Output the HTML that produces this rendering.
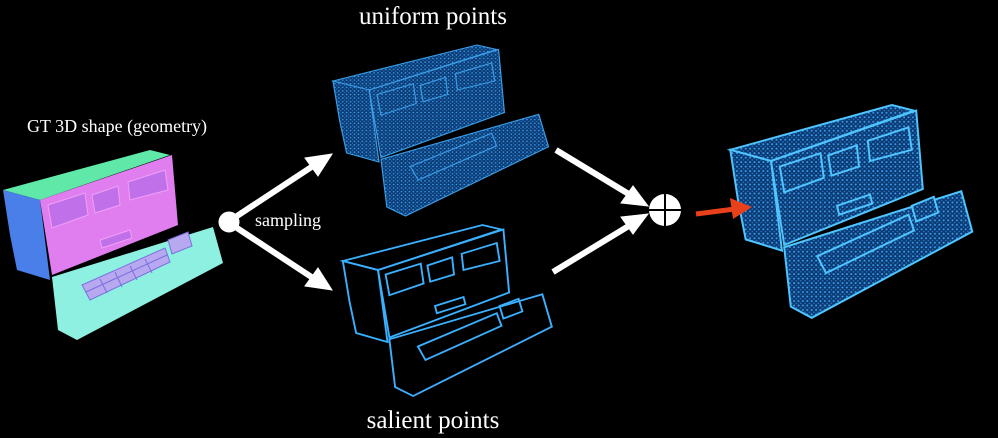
<!DOCTYPE html>
<html><head><meta charset="utf-8"><style>
html,body{margin:0;padding:0;background:#000;width:998px;height:438px;overflow:hidden}
</style></head><body>
<svg width="998" height="438" viewBox="0 0 998 438" xmlns="http://www.w3.org/2000/svg">
<defs>
<pattern id="dots" width="4" height="4" patternUnits="userSpaceOnUse">
<rect width="4" height="4" fill="#0c3870"/>
<circle cx="1" cy="1" r="0.9" fill="#3aa0f0"/>
<circle cx="3" cy="3" r="0.7" fill="#2580d0"/>
</pattern>
</defs>

<!-- GT shape -->
<g>
<polygon fill="#5fe8a8" points="3,190 150,150 170,155 40,200"/>
<polygon fill="#4a7ee8" points="3,190 40,200 50,280 17,270 10,235"/>
<polygon fill="#e07ef0" points="40,200 172,155 178,225 52,275"/>
<polygon fill="#8ef0e0" points="52,277 213,227 223,263 77,340 58,330"/>
<polygon fill="#b8a8f0" stroke="#7a70e0" points="82,285 165,248 170,262 90,300"/>
<g stroke="#7a70e0" stroke-width="1">
<line x1="86" y1="292" x2="167" y2="255"/>
<line x1="100" y1="279" x2="107" y2="293"/><line x1="115" y1="272" x2="122" y2="287"/>
<line x1="130" y1="266" x2="137" y2="280"/><line x1="145" y1="259" x2="152" y2="273"/>
</g>
<polygon fill="#b8a8f0" stroke="#7a70e0" points="168,240 188,232 192,246 172,254"/>
<polygon fill="#c070e8" stroke="#f0a0f8" points="92,195 118,186 120,205 95,213"/>
<polygon fill="#c070e8" stroke="#f0a0f8" points="48,205 85,193 88,215 52,228"/>
<polygon fill="#c070e8" stroke="#f0a0f8" points="128,182 165,170 168,190 130,200"/>
<polygon fill="#c070e8" stroke="#f0a0f8" points="100,240 130,230 132,238 102,248"/>
</g>

<!-- uniform -->
<g transform="translate(330,-90) scale(0.98,0.9)" fill="url(#dots)" stroke="#3a9ee8" stroke-width="1.2">
<polygon points="3,190 150,150 170,155 40,200"/>
<polygon points="3,190 40,200 50,280 17,270 10,235"/>
<polygon points="40,200 172,155 178,225 52,275"/>
<polygon points="52,277 213,227 223,263 77,340 58,330"/>
<polygon points="82,285 165,248 170,262 90,300"/>
<polygon points="92,195 118,186 120,205 95,213"/>
<polygon points="48,205 85,193 88,215 52,228"/>
<polygon points="128,182 165,170 168,190 130,200"/>
</g>

<!-- salient -->
<g transform="translate(340,90) scale(0.95,0.9)" fill="none" stroke="#3ab0ff" stroke-width="2">
<polygon points="3,190 150,150 170,155 40,200"/>
<polygon points="3,190 40,200 50,280 17,270 10,235"/>
<polygon points="40,200 172,155 178,225 52,275"/>
<polygon points="52,277 213,227 223,263 77,340 58,330"/>
<polygon points="82,285 165,248 170,262 90,300"/>
<polygon points="168,240 188,232 192,246 172,254"/>
<polygon points="92,195 118,186 120,205 95,213"/>
<polygon points="48,205 85,193 88,215 52,228"/>
<polygon points="128,182 165,170 168,190 130,200"/>
<polygon points="100,240 130,230 132,238 102,248"/>
</g>

<!-- combined -->
<g transform="translate(727,-63) scale(1.1,1.12)" fill="url(#dots)" stroke="#4fc4ff" stroke-width="1.8">
<polygon points="3,190 150,150 170,155 40,200"/>
<polygon points="3,190 40,200 50,280 17,270 10,235"/>
<polygon points="40,200 172,155 178,225 52,275"/>
<polygon points="52,277 213,227 223,263 77,340 58,330"/>
<polygon points="82,285 165,248 170,262 90,300"/>
<polygon points="168,240 188,232 192,246 172,254"/>
<polygon points="92,195 118,186 120,205 95,213"/>
<polygon points="48,205 85,193 88,215 52,228"/>
<polygon points="128,182 165,170 168,190 130,200"/>
<polygon points="100,240 130,230 132,238 102,248"/>
</g>

<g fill="#fff" stroke="#fff">
<circle cx="229" cy="222" r="10"/>
<line x1="237" y1="216" x2="316" y2="164" stroke-width="6"/>
<polygon points="332,154 305,158 318,176"/>
<line x1="237" y1="228" x2="316" y2="280" stroke-width="6"/>
<polygon points="332,290 318,268 305,286"/>
<line x1="556" y1="150" x2="632" y2="196" stroke-width="6"/>
<polygon points="648,206 621,203 633,186"/>
<line x1="553" y1="272" x2="632" y2="224" stroke-width="6"/>
<polygon points="648,214 633,234 621,217"/>
</g>
<circle cx="665" cy="210" r="16" fill="#fff"/>
<line x1="649" y1="210" x2="681" y2="210" stroke="#000" stroke-width="2"/>
<line x1="665" y1="194" x2="665" y2="226" stroke="#000" stroke-width="2"/>
<line x1="696" y1="214" x2="735" y2="209" stroke="#e8401a" stroke-width="5"/>
<polygon points="752,207 730,198 733,219" fill="#e8401a"/>

<g font-family="'Liberation Serif',serif" fill="#fff">
<text x="433" y="24" font-size="25" text-anchor="middle">uniform points</text>
<text x="117" y="132" font-size="18" text-anchor="middle">GT 3D shape (geometry)</text>
<text x="288" y="226" font-size="18" text-anchor="middle">sampling</text>
<text x="433" y="428" font-size="25" text-anchor="middle">salient points</text>
</g>
</svg>
</body></html>
